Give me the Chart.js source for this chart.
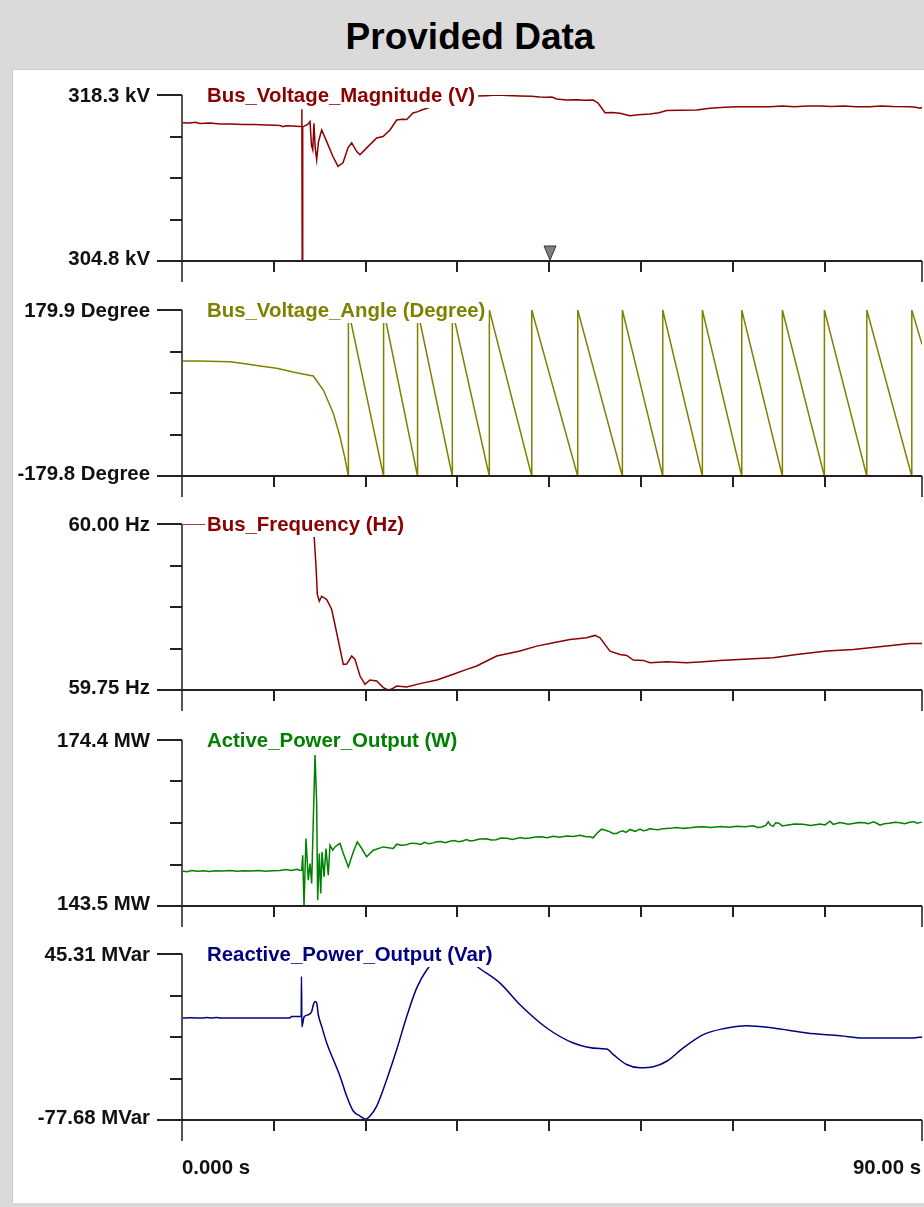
<!DOCTYPE html>
<html>
<head>
<meta charset="utf-8">
<title>Provided Data</title>
<script src="https://cdn.jsdelivr.net/npm/chart.js@4.4.1/dist/chart.umd.min.js"></script>
<style>
  html, body { margin: 0; padding: 0; }
  body {
    width: 924px; height: 1207px; position: relative; overflow: hidden;
    background: #dadada; font-family: "Liberation Sans", Arial, sans-serif;
  }
  #title {
    position: absolute; left: 0; top: 0; width: 940px; height: 68px;
    line-height: 74px; text-align: center; font-size: 37px; font-weight: bold; color: #000;
  }
  #sheet {
    position: absolute; left: 12px; top: 69px; width: 930px; height: 1133px;
    background: #fff; border-top: 1px solid #cbcbcb; border-left: 1px solid #cbcbcb;
  }
  canvas { position: absolute; left: 0; }
</style>
</head>
<body>
<div id="title">Provided Data</div>
<div id="sheet"></div>

<script>
// ---- data (time in s) ----
const seriesNames = [
    'Bus_Voltage_Magnitude (V)',
    'Bus_Voltage_Angle (Degree)',
    'Bus_Frequency (Hz)',
    'Active_Power_Output (W)',
    'Reactive_Power_Output (Var)'
];
const yMaxLabels = ['318.3 kV', '179.9 Degree', '60.00 Hz', '174.4 MW', '45.31 MVar'];
const yMinLabels = ['304.8 kV', '-179.8 Degree', '59.75 Hz', '143.5 MW', '-77.68 MVar'];
const yMaxValues = [318.3, 179.9, 60.00, 174.4, 45.31];
const yMinValues = [304.8, -179.8, 59.75, 143.5, -77.68];
const xTickLabels = ['0.000 s', '90.00 s'];
const xRange = [0, 90];
const cursorTime = 44.76;

const vmagTime = [0, 1.0, 1.6, 2.2, 3.4, 4.6, 6.0, 7.4, 8.7, 10.3, 11.5, 12.0, 12.3, 12.6, 13.4, 14.3,
    14.55, 14.58, 14.62, 14.68, 14.8, 15.3, 15.57, 15.75, 15.9, 16.05, 16.2, 16.38, 16.6, 16.99,
    17.6, 18.36, 18.97, 19.58, 20.19, 20.64, 21.25, 21.65, 22.46, 23.68, 24.45, 25.3, 26.11, 26.8,
    27.33, 28.09, 28.7, 29.15, 31.4, 33.8, 35.84, 37.0, 38.27, 39.5, 41.11, 42.5, 43.5, 44.36, 45.0,
    45.57, 46.79, 48.0, 49.0, 50.02, 50.63, 51.45, 52.3, 53.27, 54.0, 54.49, 55.5, 56.92, 58.0,
    58.95, 60.5, 62.6, 64.22, 66.0, 67.46, 69.5, 71.51, 73.0, 74.5, 76.0, 77.59, 79.0, 80.5, 82.0,
    83.68, 85.0, 86.5, 88.54, 89.2, 89.76, 90.0];
const vmagKV = [316.05, 316.02, 316.08, 315.99, 316.03, 315.95, 315.94, 315.90, 315.91, 315.87, 315.85, 315.80, 315.72, 315.80, 315.78, 315.74,
    315.73, 317.14, 304.8, 315.70, 315.75, 315.90, 316.14, 314.2, 313.84, 316.0, 314.0, 313.03, 314.5, 315.46,
    314.51, 313.30, 312.49, 312.79, 314.00, 314.41, 313.70, 313.44, 314.00, 314.81, 314.92, 315.46, 316.27, 316.32,
    316.30, 316.84, 316.95, 317.08, 317.57, 318.06, 318.22, 318.24, 318.30, 318.26, 318.22, 318.20, 318.14, 318.11, 318.13,
    317.98, 317.89, 317.91, 317.87, 317.89, 317.63, 316.86, 316.88, 316.82, 316.70, 316.62, 316.70, 316.76, 316.86,
    317.03, 317.06, 317.08, 317.22, 317.30, 317.35, 317.35, 317.35, 317.40, 317.34, 317.40, 317.41, 317.36, 317.40, 317.35,
    317.35, 317.40, 317.36, 317.35, 317.30, 317.22, 317.30];

const angleTime = [0, 2.0, 5.84, 7.87, 9.5, 11.52, 13.5, 15.0, 15.97, 17.19, 18.40, 19.22, 19.8, 20.23,
    20.24, 24.51, 24.52, 28.64, 28.65, 32.87, 32.88, 37.37, 37.38, 42.53, 42.54, 48.12, 48.13,
    53.55, 53.56, 58.46, 58.47, 63.28, 63.29, 68.07, 68.08, 73.01, 73.02, 78.12, 78.13,
    83.28, 83.29, 88.75, 88.76, 90.0];
const angleDeg = [69.4, 69.3, 67.9, 62.9, 58.5, 53.6, 45.5, 40.0, 36.9, 6.55, -43.9, -94.6, -140.0, -179.8,
    179.9, -179.8, 179.9, -179.8, 179.9, -179.8, 179.9, -179.8, 179.9, -179.8, 179.9, -179.8, 179.9,
    -179.8, 179.9, -179.8, 179.9, -179.8, 179.9, -179.8, 179.9, -179.8, 179.9, -179.8, 179.9,
    -179.8, 179.9, -179.8, 179.9, 105.4];

const freqTime = [0, 15.93, 16.09, 16.30, 16.46, 16.70, 16.99, 17.60, 18.21, 18.81, 19.62, 20.03, 20.64,
    21.04, 21.65, 22.26, 22.86, 23.68, 24.48, 25.09, 25.6, 26.11, 27.33, 28.95, 31.0, 33.0, 34.63,
    35.84, 38.27, 41.11, 43.14, 45.16, 47.19, 49.22, 50.23, 50.84, 52.05, 53.27, 54.08, 54.89,
    56.10, 56.92, 58.95, 61.38, 63.40, 65.43, 69.48, 71.91, 74.76, 78.41, 81.64, 85.70, 88.54, 90.0];
const freqHz = [60.000, 60.000, 59.9775, 59.9363, 59.8938, 59.8837, 59.8912, 59.8863, 59.8712, 59.8362, 59.7886, 59.7890, 59.8011,
    59.7961, 59.7710, 59.7586, 59.7650, 59.7635, 59.7536, 59.7500, 59.7520, 59.7560, 59.7545, 59.7596, 59.7650, 59.7736, 59.7811,
    59.7861, 59.8011, 59.8086, 59.8161, 59.8212, 59.8262, 59.8287, 59.8322, 59.8287, 59.8086, 59.8036, 59.8021, 59.7951,
    59.7946, 59.7912, 59.7927, 59.7912, 59.7927, 59.7946, 59.7972, 59.7987, 59.8036, 59.8086, 59.8111, 59.8161, 59.8202, 59.8202];

const powerTime = [0, 0.6, 1.2, 1.9, 2.6, 3.3, 4.1, 5.0, 5.8, 6.7, 7.5, 8.4, 9.3, 10.2, 11.0, 11.9, 12.6,
    13.3, 14.0, 14.4, 14.56, 14.68, 14.84, 15.08, 15.36, 15.57, 15.77, 15.97, 16.18, 16.38, 16.50,
    16.70, 16.87, 17.03, 17.27, 17.51, 17.79, 18.00, 18.33, 18.61, 18.89, 19.22, 19.62, 20.23, 20.83,
    21.32, 21.86, 22.46, 23.27, 24.48, 25.70, 26.11, 26.7, 27.3, 27.9, 28.54, 29.0, 29.5, 30.0, 30.56,
    31.0, 31.5, 32.0, 32.59, 33.1, 33.6, 34.1, 34.63, 35.0, 35.5, 36.2, 37.06, 37.6, 38.2, 38.8, 39.5,
    40.2, 41.11, 41.7, 42.3, 43.0, 43.8, 44.4, 45.16, 45.9, 46.8, 47.6, 48.41, 49.0, 49.62, 50.0, 50.44,
    51.04, 51.5, 52.05, 52.4, 52.87, 53.2, 53.6, 54.0, 54.49, 55.1, 55.70, 56.1, 56.5, 56.9, 57.32, 57.9,
    58.5, 59.3, 60.17, 61.0, 61.8, 62.6, 63.40, 64.4, 65.5, 66.5, 67.46, 68.5, 69.48, 70.0, 70.5, 71.0,
    71.31, 71.6, 71.91, 72.2, 72.6, 73.0, 73.54, 74.5, 75.5, 76.5, 77.59, 78.2, 78.81, 79.2, 79.5, 80.0,
    80.5, 81.0, 81.64, 82.3, 83.0, 83.5, 84.08, 84.5, 84.89, 85.4, 86.0, 86.7, 87.32, 87.9, 88.5, 89.0,
    89.4, 89.96];
const powerMW = [150.03, 149.9, 150.1, 149.95, 150.08, 149.92, 150.05, 150.0, 150.1, 149.95, 150.05, 150.0, 150.12, 149.98, 150.05, 150.1, 150.3,
    150.1, 150.35, 150.1, 150.16, 152.96, 143.5, 156.07, 148.29, 151.41, 147.68, 159.48, 171.60, 162.60, 144.56,
    153.27, 145.81, 153.57, 148.91, 154.20, 149.23, 154.82, 153.89, 154.50, 154.82, 155.14, 153.27, 150.77, 153.57,
    155.44, 154.20, 152.64, 153.89, 154.50, 154.20, 155.01, 154.8, 154.9, 155.2, 155.14, 154.95, 155.35, 155.1, 155.25,
    155.45, 155.5, 155.3, 155.57, 155.7, 155.45, 155.6, 155.88, 155.6, 155.7, 155.95, 156.00, 155.8, 155.85, 156.15, 156.1,
    155.9, 156.26, 156.05, 156.15, 156.35, 156.4, 156.2, 156.50, 156.3, 156.55, 156.45, 156.68, 156.45, 156.37, 156.2, 157.00,
    157.80, 157.6, 157.30, 157.0, 157.00, 157.3, 157.5, 157.2, 157.75, 157.4, 157.8, 157.5, 157.6, 157.9, 157.80, 157.7,
    157.9, 157.95, 158.12, 157.95, 158.05, 158.2, 158.23, 158.1, 158.3, 158.15, 158.36, 158.25, 158.42, 158.1, 158.2, 158.5,
    159.16, 158.5, 158.36, 159.0, 158.9, 158.4, 158.55, 158.75, 158.7, 158.5, 158.74, 158.6, 159.29, 158.7, 158.8, 159.05,
    158.9, 158.7, 158.87, 159.05, 159.0, 158.8, 159.16, 158.9, 158.55, 158.8, 158.9, 159.1, 158.98, 158.8, 159.1, 159.2,
    158.9, 159.11];

const reactTime = [0, 1.0, 2.5, 3.04, 3.5, 4.26, 4.6, 8.0, 13.1, 13.34, 14.5, 14.53, 14.58, 14.84, 15.36,
    15.77, 15.97, 16.18, 16.38, 16.58, 16.99, 17.6, 18.4, 19.22, 20.03, 20.83, 21.65, 22.34, 22.86,
    23.68, 24.9, 26.11, 27.33, 28.54, 29.76, 31.38, 32.84, 34.42, 36.16, 38.68, 41.11, 44.36, 47.59,
    50.84, 51.65, 52.46, 54.08, 55.70, 57.32, 58.95, 60.97, 63.40, 65.83, 68.68, 71.91, 75.98, 80.03,
    82.86, 88.94, 90.0];
const reactMVar = [-2.13, -2.0, -2.13, -1.69, -2.1, -1.69, -2.13, -2.13, -2.13, -0.95, -0.95, 28.56, -8.77, -1.39, 0.30,
    2.74, 7.68, 10.12, 8.94, 0.30, -8.33, -20.58, -32.90, -45.22, -59.98, -71.04, -74.73, -77.16, -74.73,
    -67.35, -47.65, -25.52, -0.95, 20.00, 33.50, 43.10, 45.31, 43.10, 34.76, 23.69, 7.68, -9.51, -20.58,
    -24.78, -25.0, -29.21, -36.58, -39.02, -38.28, -34.15, -24.26, -14.45, -10.03, -7.81, -9.51, -13.20, -15.19,
    -16.89, -16.89, -16.15];

// ---- layout / styles ----
const seriesTimes = [vmagTime, angleTime, freqTime, powerTime, reactTime];
const seriesValues = [vmagKV, angleDeg, freqHz, powerMW, reactMVar];
const seriesColors = ['#8b0000', '#808000', '#8b0000', '#008000', '#000080'];
const panelTops = [95, 310, 524, 740, 954];
const panelHeight = 166;
const plotLeft = 182;
const plotRight = 922;
const xTickStep = 11.165;
const labelFont = 'bold 20.4px "Liberation Sans", Arial, sans-serif';

const stripPlugin = {
    id: 'strip',
    afterDraw(chart, args, opts) {
        const { ctx } = chart;
        const x = chart.scales.x;
        const y = chart.scales.y;
        const x0 = Math.round(x.getPixelForValue(xRange[0]));
        const x1 = Math.round(x.getPixelForValue(xRange[1]));
        const yt = Math.round(y.getPixelForValue(y.max));
        const yb = Math.round(y.getPixelForValue(y.min));

        ctx.save();
        ctx.lineCap = 'butt';

        // axis lines
        ctx.strokeStyle = '#555555';
        ctx.lineWidth = 2;
        ctx.beginPath();
        ctx.moveTo(x0, yt);
        ctx.lineTo(x0, yb + 21);
        ctx.moveTo(x1, yb);
        ctx.lineTo(x1, yb + 21);
        ctx.stroke();

        ctx.strokeStyle = '#222222';
        ctx.beginPath();
        ctx.moveTo(x0 - 25, yb);
        ctx.lineTo(x1, yb);
        ctx.moveTo(x0 - 25, yt);
        ctx.lineTo(x0, yt);
        for (let k = 1; k < 4; k++) {
            const py = Math.round(y.getPixelForValue(y.min + (y.max - y.min) * k / 4));
            ctx.moveTo(x0 - 12, py);
            ctx.lineTo(x0, py);
        }
        for (let t = xTickStep; t < xRange[1] - 2; t += xTickStep) {
            const px = Math.round(x.getPixelForValue(t));
            ctx.moveTo(px, yb);
            ctx.lineTo(px, yb + 11);
        }
        ctx.stroke();

        // y tick labels
        ctx.font = labelFont;
        ctx.fillStyle = '#111111';
        ctx.textAlign = 'right';
        ctx.textBaseline = 'middle';
        ctx.fillText(opts.topLabel, 150, yt + 1);
        ctx.fillText(opts.bottomLabel, 150, yb - 2);

        // series name on a white box
        const w = ctx.measureText(opts.name).width;
        ctx.fillStyle = '#ffffff';
        ctx.fillRect(205, yt - 13, w + 5, 26);
        ctx.fillStyle = opts.color;
        ctx.textAlign = 'left';
        ctx.fillText(opts.name, 207, yt + 1);

        // time cursor marker
        if (opts.cursor !== null) {
            const cx = Math.round(x.getPixelForValue(opts.cursor));
            ctx.beginPath();
            ctx.moveTo(cx - 6, yb - 15);
            ctx.lineTo(cx + 6, yb - 15);
            ctx.lineTo(cx, yb - 1);
            ctx.closePath();
            ctx.fillStyle = '#7f7f7f';
            ctx.fill();
            ctx.strokeStyle = '#333333';
            ctx.lineWidth = 1;
            ctx.stroke();
        }

        // time labels
        if (opts.showTime) {
            ctx.fillStyle = '#111111';
            ctx.textBaseline = 'middle';
            ctx.textAlign = 'left';
            ctx.fillText(xTickLabels[0], x0, yb + 48);
            ctx.textAlign = 'right';
            ctx.fillText(xTickLabels[1], x1 - 1, yb + 48);
        }
        ctx.restore();
    }
};

seriesNames.forEach((name, i) => {
    const last = i === seriesNames.length - 1;
    const padTop = 30;
    const padBottom = last ? 80 : 30;
    const canvas = document.createElement('canvas');
    canvas.width = 924;
    canvas.height = padTop + panelHeight + padBottom;
    canvas.style.top = (panelTops[i] - padTop) + 'px';
    document.body.appendChild(canvas);

    const points = seriesTimes[i].map((t, j) => ({ x: t, y: seriesValues[i][j] }));

    new Chart(canvas.getContext('2d'), {
        type: 'line',
        data: {
            datasets: [{
                data: points,
                borderColor: seriesColors[i],
                borderWidth: 1.5,
                pointRadius: 0,
                tension: 0,
                cubicInterpolationMode: last ? 'monotone' : 'default'
            }]
        },
        options: {
            responsive: false,
            animation: false,
            events: [],
            layout: {
                padding: { left: plotLeft, right: 924 - plotRight, top: padTop, bottom: padBottom }
            },
            scales: {
                x: { type: 'linear', min: xRange[0], max: xRange[1], display: false },
                y: { type: 'linear', min: yMinValues[i], max: yMaxValues[i], display: false }
            },
            plugins: {
                legend: { display: false },
                tooltip: { enabled: false },
                strip: {
                    name: name,
                    color: seriesColors[i],
                    topLabel: yMaxLabels[i],
                    bottomLabel: yMinLabels[i],
                    cursor: i === 0 ? cursorTime : null,
                    showTime: last
                }
            }
        },
        plugins: [stripPlugin]
    });
});
</script>
</body>
</html>
